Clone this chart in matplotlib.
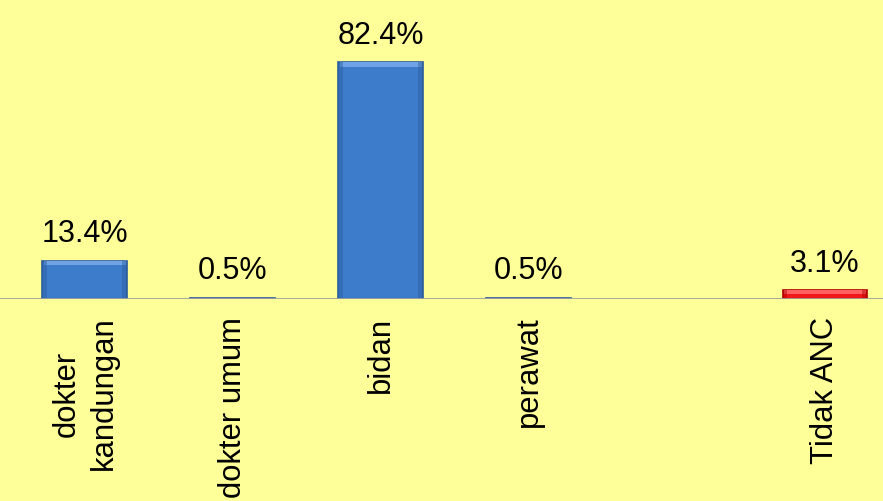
import matplotlib
matplotlib.use("Agg")
import matplotlib.pyplot as plt

plt.rcParams['font.family'] = ['Liberation Sans', 'DejaVu Sans']

categories = ["dokter\nkandungan", "dokter umum", "bidan", "perawat", "", "Tidak ANC"]
values = [13.4, 0.5, 82.4, 0.5, None, 3.1]
value_labels = ["13.4%", "0.5%", "82.4%", "0.5%", "", "3.1%"]
bar_colors = ["#3D7BCB", "#3D7BCB", "#3D7BCB", "#3D7BCB", None, "#F01818"]
edge_colors = ["#2B5C9C", "#2B5C9C", "#2B5C9C", "#2B5C9C", None, "#B00000"]
light_colors = ["#6FA3E6", "#6FA3E6", "#6FA3E6", "#6FA3E6", None, "#FF6060"]

bg = "#FFFF99"
fig = plt.figure(figsize=(8.83, 5.02), dpi=100, facecolor=bg)
ax = fig.add_axes([0, 0.402, 1, 0.598])
ax.set_facecolor(bg)

width = 0.574
ymax = 104.5
for i, v in enumerate(values):
    if v is None:
        continue
    ax.bar(i, v, width=width, color=bar_colors[i], edgecolor=edge_colors[i],
           linewidth=1.2, zorder=2)
    # bevel highlight along the top edge
    band = min(v * 0.5, ymax * 0.014)
    ax.bar(i, band, bottom=v - band, width=width * 0.96, color=light_colors[i],
           linewidth=0, zorder=3)
    # darker sides
    side = width * 0.05
    ax.bar(i - width / 2 + side / 2 + 0.005, v, width=side, color=edge_colors[i],
           alpha=0.45, linewidth=0, zorder=3)
    ax.bar(i + width / 2 - side / 2 - 0.005, v, width=side, color=edge_colors[i],
           alpha=0.45, linewidth=0, zorder=3)
    ax.annotate(value_labels[i], (i, v), xytext=(0, 9), textcoords="offset points",
                ha="center", va="bottom", fontsize=22, color="black")

ax.axhline(0, color="#A0A0A0", linewidth=2, zorder=4)
ax.set_xlim(-0.574, 5.392)
ax.set_ylim(0, ymax)
ax.axis("off")

for i, lab in enumerate(categories):
    if not lab:
        continue
    ax.text(i, -0.055, lab, transform=ax.get_xaxis_transform(), rotation=90,
            ha="center", va="top", multialignment="center", fontsize=22.3,
            color="black", linespacing=1.3)

fig.savefig("out.png", dpi=100, facecolor=bg)
